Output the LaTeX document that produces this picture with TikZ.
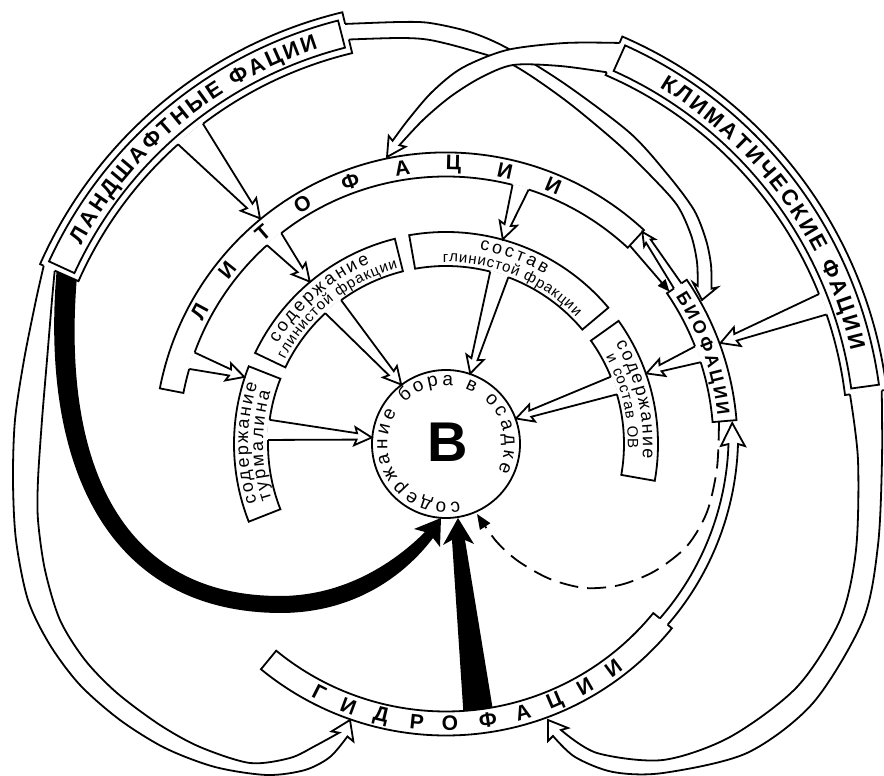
\documentclass[tikz,border=0pt]{standalone}
\usepackage{fontspec}
\setmainfont{Liberation Sans}
\usetikzlibrary{calc,decorations.text,arrows.meta}
\newcommand{\lbl}{\fontsize{21}{21}\selectfont\bfseries}
\newcommand{\biglbl}{\fontsize{22}{22}\selectfont\bfseries}
\newcommand{\txa}{\fontsize{18}{18}\selectfont}
\newcommand{\txb}{\fontsize{15}{15}\selectfont}
\newcommand{\sector}[5][]{\filldraw[fill=white,#1] (#2:#4) arc[start angle=#2,end angle=#3,radius=#4] -- (#3:#5) arc[start angle=#3,end angle=#2,radius=#5] -- cycle;}
\newcommand{\arctext}[5]{\path[decorate,decoration={text along path,text={|#1|#5},text align={fit to path}}] (#2:#4) arc[start angle=#2,end angle=#3,radius=#4];}
\newcommand{\dframe}[2]{\sector{#1}{#2}{402}{444}
 \draw ({#1+0.8}:409) arc[start angle={#1+0.8},end angle={#2-0.8},radius=409] -- ({#2-0.8}:437) arc[start angle={#2-0.8},end angle={#1+0.8},radius=437] -- cycle;}
% hollow arrow: base1, base2, tip, head length, barb distance, barb half width, neck half width
\newcommand{\harrow}[7]{%
 \coordinate (hB1) at (#1); \coordinate (hB2) at (#2); \coordinate (hT) at (#3);
 \coordinate (hM) at ($(hB1)!0.5!(hB2)$);
 \coordinate (hN) at ($(hT)!#4pt!(hM)$);
 \coordinate (hK) at ($(hT)!#5pt!(hM)$);
 \coordinate (hP1) at ($(hN)+(hB1)-(hM)$); \coordinate (hP2) at ($(hN)+(hB2)-(hM)$);
 \coordinate (hQ1) at ($(hK)+(hB1)-(hM)$); \coordinate (hQ2) at ($(hK)+(hB2)-(hM)$);
 \coordinate (hN1) at ($(hN)!#7pt!(hP1)$); \coordinate (hN2) at ($(hN)!#7pt!(hP2)$);
 \coordinate (hK1) at ($(hK)!#6pt!(hQ1)$); \coordinate (hK2) at ($(hK)!#6pt!(hQ2)$);
 \fill[white] (hB1) -- (hN1) -- (hK1) -- (hT) -- (hK2) -- (hN2) -- (hB2) -- cycle;
 \draw[white,line width=2.8pt] (hB1) -- (hB2);
 \draw (hB1) -- (hN1) -- (hK1) -- (hT) -- (hK2) -- (hN2) -- (hB2);}
\begin{document}
\begin{tikzpicture}[x=1pt,y=1pt,line width=1.8pt]
\useasboundingbox (-446,-332) rectangle (438,444);

% ---------- Lito ring ----------
\sector{47.2}{169}{267.5}{291.5}
\foreach \ch/\a in {Л/151.8,И/141.5,Т/131,О/120.9,Ф/110,А/99,Ц/88.5,И/77.8,И/67.4}
  \node[font=\lbl,rotate=\a-90,inner sep=0] at (\a:279.5) {\ch};
% ---------- Hydro ring ----------
\sector{230.6}{320.8}{267.5}{291.5}
\foreach \ch/\a in {Г/243,И/249.6,Д/256.5,Р/264,О/270.8,Ф/278.6,А/286,Ц/293,И/299.8,И/306.8}
  \node[font=\lbl,rotate=\a+90,inner sep=0] at (\a:279.5) {\ch};
% ---------- Bio ----------
\sector{4.7}{34.3}{267.5}{291.5}
\arctext{\fontsize{18}{18}\selectfont\bfseries}{32.8}{6.0}{273}{БИОФАЦИИ}

% ---------- inner boxes ----------
\sector{104}{154.5}{178}{211.5}
\arctext{\txa}{149.2}{112.8}{196}{содержание}
\arctext{\txb}{152.3}{105.3}{182}{глинистой фракции}
\sector{40}{100}{178}{212}
\arctext{\txa}{80.2}{59.8}{197}{состав}
\arctext{\txb}{91}{44.3}{182}{глинистой фракции}
\sector{-10}{35.5}{178}{212}
\arctext{\txa}{30.6}{-4.2}{197}{содержание}
\arctext{\txb}{28.6}{-1.5}{182}{и состав ОВ}
\sector{158.5}{201.5}{178}{212}
\arctext{\txa}{197.2}{162.3}{198}{содержание}
\arctext{\txa}{197.7}{163.5}{183}{турмалина}

% ---------- centre ----------
\draw (0,0) circle[radius=74];
\node[font=\fontsize{56}{56}\selectfont\bfseries,inner sep=0] (B) at (2,2) {B};
\arctext{\fontsize{19}{19}\selectfont}{283.3}{-27.3}{58.5}{содержание бора в осадке}

% ---------- outer boxes ----------
\dframe{103.5}{156.1}
\arctext{\biglbl}{151.4}{107.9}{415.5}{ЛАНДШАФТНЫЕ ФАЦИИ}
\dframe{7}{66.6}
\arctext{\biglbl}{59.1}{13.0}{415.5}{КЛИМАТИЧЕСКИЕ ФАЦИИ}

\coordinate (LG1) at (156.1:440); \coordinate (LG2) at (156.1:428);
\coordinate (LB1) at (103.5:432); \coordinate (LB2) at (103.5:416);
\coordinate (KL1) at (66.6:437);  \coordinate (KL2) at (66.6:405);
\coordinate (KG1) at (7:439);     \coordinate (KG2) at (7:407);
\coordinate (LK1) at (156.1:426); \coordinate (LK2) at (156.1:404);
\draw[white,line width=2.8pt] (LG1)--(LG2) (LB1)--(LB2) (KL1)--(KL2) (KG1)--(KG2);

\begin{scope}[shift={(-446,444)},yscale=-1]
% landscape -> hydro
\filldraw[fill=white] plot[smooth] coordinates {(LG1) (36,300) (24,360) (15,420) (13,480) (16,540) (28,600) (50,645) (80,685) (120,720) (165,748) (215,767) (267,775) (305,770) (330,757) (347.4,736.5)}
 -- (353.4,741.4) -- (350,720) -- (331.6,731.4)
 -- plot[smooth] coordinates {(339.2,732.7) (315,746) (290,758) (250,763) (200,747) (160,725) (117,693) (85,660) (60,620) (45,570) (38,520) (38,480) (42,420) (47,360) (52,300) (LG2)};
% climate -> hydro
\filldraw[fill=white] plot[smooth] coordinates {(KG2) (858,460) (856,550) (840,620) (797,687) (730,737) (663,760) (597,753) (561,730)}
 -- (568,728) -- (548,720) -- (548,741)
 -- plot[smooth] coordinates {(553,736) (575,757) (613,772) (663,773) (747,753) (813,703) (863,620) (878,545) (882,460) (KG1)};
% landscape -> bio
\filldraw[fill=white] plot[smooth] coordinates {(LB1) (400,22) (430,23) (470,32) (507,48) (565,84) (630,133) (668,175) (694,210) (706,240) (711,265) (711.5,288.7)}
 -- (717.4,287.4) -- (702,300) -- (692.9,282.4)
 -- plot[smooth] coordinates {(697.7,285.9) (697,262) (691,235) (677,205) (650,175) (617,143) (565,100) (513,65) (470,50) (430,40) (400,38) (LB2)};
% climate -> lito
\filldraw[fill=white] plot[smooth] coordinates {(KL1) (565,43) (507,50) (462,68) (432,92) (408,120) (392.6,140.8)}
 -- (388.7,135.9) -- (387,157) -- (405.5,146.7)
 -- plot[smooth] coordinates {(399.4,145.2) (423,120) (450,97) (480,78) (513,65) (560,66) (KL2)};
% black landscape -> centre
\fill (LK1) .. controls (40,470) and (110,612) .. (280,613) .. controls (355,613) and (405,575) .. (433,538)
 -- (440,547) -- (441,518) -- (414,529) -- (425,532)
 .. controls (395,562) and (345,596) .. (280,596) .. controls (125,596) and (62,470) .. (LK2) -- cycle;
% black hydro -> centre
\fill (463.3,710.9) -- (452,540) -- (443,545) -- (458,518) -- (474,544) -- (465,540) -- (492.5,707.4) -- cycle;
% dashed bio -> centre
\draw[dash pattern=on 19pt off 9pt,-{Triangle[length=15pt,width=12pt]}] plot[smooth] coordinates {(719,421.5) (717,468) (707,512) (687,546) (655,571) (620,585) (585,588) (550,579) (518,561) (496,541) (477,514)};
\end{scope}

% hydro -> bio band
\draw[white,line width=2.8pt] (320.8:276) -- (320.8:286);
\filldraw[fill=white] plot[domain=320.8:360,samples=40] (\x:{276+(\x-320.8)*0.166})
 -- (359.6:275) -- (364.2:287) -- (359.6:299)
 -- plot[domain=360:320.8,samples=40] (\x:{286+(\x-320.8)*0.153});

% hollow arrows
\harrow{131.8:402}{127.2:402}{129.5:292.5}{16}{18}{10}{3.5}
\harrow{21.9:402}{18.8:402}{20.2:292.5}{16}{18}{10}{3.5}
\harrow{132:267.5}{128:267.5}{130:212}{15}{17}{9}{3.2}
\harrow{75.6:267.5}{72:267.5}{74.5:212.5}{15}{17}{9}{3.2}
\harrow{163.7:267.5}{160:267.5}{161.6:212.5}{15}{17}{9}{3.2}
\harrow{21.4:267.5}{17.8:267.5}{19.4:212.5}{15}{17}{9}{3.2}
\harrow{132.7:178}{126.1:178}{127:74.5}{15}{17}{9}{3.2}
\harrow{75.6:178}{69.5:178}{71:74.5}{15}{17}{9}{3.2}
\harrow{172.2:178}{178.7:178}{175:74.5}{15}{17}{9}{3.2}
\harrow{22.2:178}{16.2:178}{20:74.5}{15}{17}{9}{3.2}
% lito <-> bio
\draw[-{Triangle[length=12pt,width=10pt]}] (47.2:270.5) -- (34.3:270.5);
\harrow{34.3:276}{34.3:285}{47.2:289}{11}{13}{6.5}{2.8}
\end{tikzpicture}
\end{document}
